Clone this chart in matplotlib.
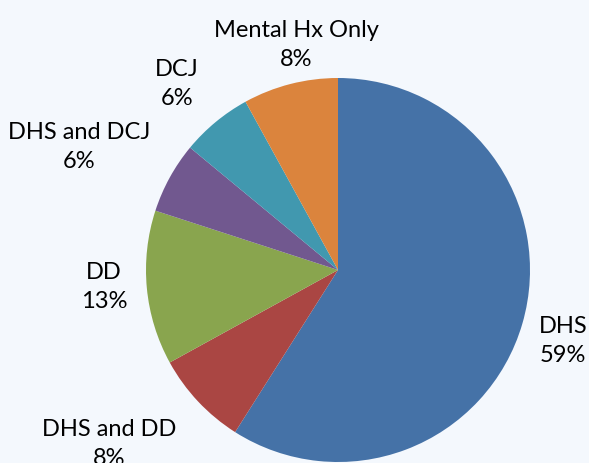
import matplotlib.pyplot as plt

categories = ["DHS", "DHS and DD", "DD", "DHS and DCJ", "DCJ", "Mental Hx Only"]
shares = [59, 8, 13, 6, 6, 8]
colors = ["#4572A7", "#AA4643", "#89A54E", "#71588F", "#4198AF", "#DB843D"]

# label centres in data units (pie radius = 1), placed like the original
label_pos = [(1.172, -0.365), (-1.19, -0.90), (-1.219, -0.083),
             (-1.349, 0.646), (-0.839, 0.974), (-0.219, 1.177)]

bg = "#F4F8FD"
fig = plt.figure(figsize=(5.89, 4.64), dpi=100, facecolor=bg)
ax = fig.add_axes([0, 0, 1, 1])
ax.set_facecolor(bg)

wedges, texts = ax.pie(shares, colors=colors, startangle=90, counterclock=False,
                       radius=1, labels=[f"{c}\n{v}%" for c, v in zip(categories, shares)],
                       wedgeprops=dict(linewidth=0))
for t, (x, y) in zip(texts, label_pos):
    t.set_position((x, y))
    t.set_ha("center")
    t.set_va("center")
    t.set_fontsize(17)
    t.set_family("Lato")
    t.set_linespacing(1.45)
    t.set_color("black")

ax.set_xlim(-338/192, 251/192)
ax.set_ylim(-193/192, 271/192)
ax.set_aspect("auto")
ax.axis("off")

fig.savefig("out.png", dpi=100, facecolor=bg)
